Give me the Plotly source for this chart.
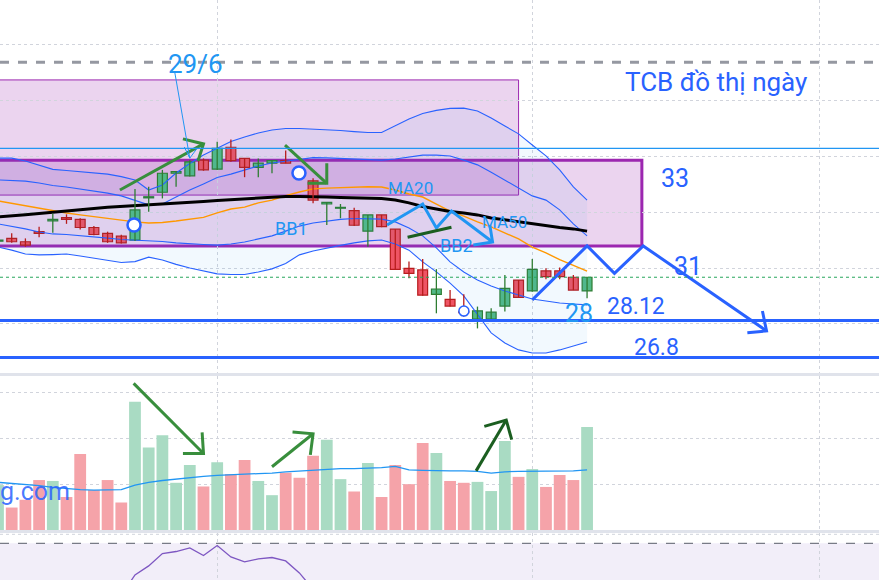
import plotly.graph_objects as go

# bar index: 0 = first full candle on the left, -1 is the one cut by the edge
bars = list(range(-1, 43))

opens = [30.96, 31.06, 30.94, 31.30, 31.69, 31.80, 31.74, 31.45, 31.24, 31.14, 31.00,
         32.51, 32.71, 33.39, 33.30, 33.86, 33.54, 34.32, 33.92, 33.60, 33.75, 33.84,
         33.43, 33.12, 32.29, 32.14, 32.05, 31.32, 31.90, 31.39, 29.99, 29.93, 29.06,
         28.88, 28.44, 28.17, 28.17, 28.64, 29.57, 29.18, 29.90, 29.90, 29.67, 29.18]
highs = [31.05, 31.24, 31.06, 31.48, 31.95, 31.92, 31.78, 31.50, 31.30, 31.19, 32.83,
         32.91, 33.51, 33.45, 33.86, 33.92, 34.52, 34.60, 33.93, 33.92, 33.84, 34.20,
         33.58, 33.21, 32.35, 32.29, 32.16, 31.90, 31.90, 31.39, 30.23, 30.32, 29.96,
         29.21, 29.06, 28.62, 28.56, 29.75, 29.57, 30.32, 29.99, 30.02, 29.75, 29.67]
lows = [30.92, 30.90, 30.76, 31.10, 31.26, 31.58, 31.38, 31.17, 30.90, 30.88, 30.97,
        32.01, 32.49, 32.91, 33.27, 33.48, 33.51, 33.80, 33.25, 33.25, 33.39, 33.75,
        33.22, 32.32, 31.54, 31.78, 31.50, 30.76, 31.46, 29.93, 29.63, 29.01, 28.38,
        28.62, 28.26, 27.84, 28.17, 28.44, 28.95, 29.15, 29.60, 29.60, 29.21, 28.92]
closes = [31.00, 30.94, 30.82, 31.24, 31.74, 31.74, 31.45, 31.20, 30.94, 30.90, 32.08,
          32.55, 33.39, 33.45, 33.80, 33.51, 34.28, 33.84, 33.60, 33.75, 33.84, 33.75,
          33.36, 32.43, 32.35, 32.17, 31.53, 31.90, 31.48, 29.95, 29.81, 29.03, 29.25,
          28.64, 28.40, 28.47, 28.42, 29.27, 28.95, 29.95, 29.69, 29.69, 29.21, 29.67]

# volume in millions of shares and its moving average
volume = [9.8, 4.9, 6.6, 10.9, 10.7, 7.2, 16.6, 8.7, 10.9, 6.0, 28.0, 18.0, 20.7, 10.3,
          14.2, 9.5, 14.8, 12.2, 15.3, 10.7, 7.6, 12.5, 11.4, 16.2, 19.7, 11.1, 8.4, 14.6,
          7.2, 14.2, 10.0, 19.0, 16.8, 10.7, 10.3, 10.5, 8.5, 19.4, 11.6, 13.3, 9.4, 12.0,
          10.9, 22.5]
vol_ma = [10.4, 10.2, 10.0, 9.7, 9.3, 9.0, 8.8, 8.7, 8.7, 8.8, 9.8, 10.4, 10.8, 11.1,
          11.5, 11.7, 11.9, 12.1, 12.2, 12.3, 12.4, 12.7, 12.9, 13.0, 13.3, 13.4, 13.4,
          13.5, 13.6, 13.9, 13.1, 13.0, 12.9, 12.9, 12.9, 12.8, 12.4, 12.7, 12.8, 12.8,
          12.8, 12.8, 12.9, 13.1]

ma20 = [32.40, 32.31, 32.24, 32.15, 32.04, 31.97, 31.90, 31.84, 31.77, 31.70, 31.65,
        31.61, 31.63, 31.68, 31.74, 31.81, 31.97, 32.11, 32.18, 32.33, 32.43, 32.59,
        32.72, 32.83, 32.86, 32.88, 32.90, 32.91, 32.90, 32.79, 32.65, 32.54, 32.29,
        32.04, 31.86, 31.65, 31.47, 31.25, 31.04, 30.75, 30.54, 30.30, 30.09, 29.89]
ma50 = [31.83, 31.86, 31.91, 31.95, 32.00, 32.04, 32.08, 32.13, 32.17, 32.20, 32.22,
        32.24, 32.27, 32.31, 32.34, 32.38, 32.42, 32.45, 32.47, 32.51, 32.54, 32.56,
        32.56, 32.56, 32.54, 32.52, 32.51, 32.51, 32.49, 32.43, 32.33, 32.20, 32.11,
        32.02, 31.97, 31.90, 31.79, 31.72, 31.65, 31.58, 31.50, 31.45, 31.40, 31.32]

# bollinger bands, 2 and 1 deviations
bb_up2 = [33.93, 33.93, 33.83, 33.67, 33.53, 33.49, 33.45, 33.42, 33.36, 33.27, 33.15,
          32.79, 32.97, 33.40, 33.74, 34.04, 34.29, 34.53, 34.69, 34.83, 34.94, 34.99,
          34.99, 34.97, 34.94, 34.92, 34.88, 34.85, 34.85, 35.08, 35.33, 35.53, 35.64,
          35.71, 35.72, 35.62, 35.37, 35.08, 34.80, 34.40, 34.01, 33.51, 32.90, 32.43]
bb_up1 = [33.15, 33.13, 33.11, 33.04, 32.95, 32.90, 32.83, 32.76, 32.68, 32.58, 32.43,
          32.26, 32.29, 32.54, 32.79, 33.01, 33.24, 33.36, 33.51, 33.65, 33.76, 33.83,
          33.90, 33.95, 33.94, 33.92, 33.90, 33.88, 33.86, 33.90, 33.97, 34.04, 34.04,
          34.01, 33.86, 33.69, 33.43, 33.15, 32.86, 32.58, 32.43, 32.08, 31.58, 31.15]
bb_lo1 = [31.58, 31.50, 31.40, 31.29, 31.22, 31.20, 31.16, 31.13, 31.07, 31.02, 31.00,
          30.98, 30.95, 30.90, 30.86, 30.84, 30.82, 30.86, 30.93, 31.04, 31.15, 31.32,
          31.50, 31.61, 31.68, 31.74, 31.77, 31.77, 31.75, 31.65, 31.43, 31.15, 30.72,
          30.22, 29.86, 29.57, 29.36, 29.18, 29.03, 28.89, 28.82, 28.75, 28.71, 28.68]
bb_lo2 = [30.75, 30.64, 30.50, 30.47, 30.48, 30.50, 30.43, 30.36, 30.29, 30.20, 30.23,
          30.39, 30.29, 30.13, 30.00, 29.89, 29.79, 29.77, 29.77, 29.86, 29.97, 30.16,
          30.47, 30.61, 30.72, 30.81, 30.90, 30.97, 31.00, 30.86, 30.64, 30.22, 29.86,
          29.46, 29.00, 28.32, 27.68, 27.32, 27.07, 26.96, 26.96, 27.07, 27.21, 27.35]

rsi = [48, 46, 45, 46, 48, 48, 46, 44, 42, 44, 54.2, 58.7, 64.9, 65.9, 67.7, 63.9, 68.9,
       63.2, 60.7, 62.2, 62.9, 61.2, 55.2, 47, 46, 45, 41, 44, 40, 31, 29, 25, 29, 27,
       26, 28, 28, 37, 34, 41, 39, 39, 36, 40]

# drawings (bar index, price)
level_lines = [28.12, 26.8]
dashed_level = 37.36
thin_level = 34.28
box_top = dict(x1=37, y0=32.61, y1=36.73)
box_range = dict(x1=46, y0=30.79, y1=33.86)
zigzag_light = dict(x=[27.4, 30.0, 31.0, 32.1, 35.1, None, 34.9, 35.1, 33.7],
                    y=[31.54, 32.29, 31.43, 32.04, 30.93, None, 31.54, 30.93, 30.82])
zigzag_dark = dict(x=[38.0, 42.0, 44.0, 46.1, 55.1, None, 54.8, 55.1, 53.7],
                   y=[28.86, 30.79, 29.81, 30.79, 27.75, None, 28.46, 27.75, 27.68])
arrow_up = dict(x=[7.9, 14.0, None, 12.5, 14.0, 13.6],
                y=[32.79, 34.44, None, 34.62, 34.44, 33.83])
arrow_down = dict(x=[19.95, 23.0, None, 23.0, 23.0, 21.6],
                  y=[34.40, 33.03, None, 33.75, 33.03, 33.03])
green_seg = dict(x=[28.9, 32.1], y=[31.10, 31.46])
date_arrow = dict(x=[11.9, 13.0, None, 12.6, 13.0, 13.5],
                  y=[37.01, 33.93, None, 34.33, 33.93, 34.26])
vol_arrow1 = dict(x=[8.9, 14.0, None, 13.9, 14.0, 12.5], y=[32.0, 16.7, None, 21.3, 16.7, 16.7])
vol_arrow2 = dict(x=[19.0, 22.0, None, 20.5, 22.0, 21.8], y=[13.8, 21.0, None, 21.4, 21.0, 16.4])
vol_arrow3 = dict(x=[33.9, 36.1, None, 34.5, 36.1, 36.5], y=[12.9, 24.0, None, 22.6, 24.0, 19.7])
markers = dict(x=[8.93, 20.97], y=[31.54, 33.40])
marker_small = dict(x=[33.01], y=[28.46])
month_lines = [15, 38, 59]

BLUE = "#2962ff"
LIGHT = "#2196f3"
GREEN = "#388e3c"
DKGREEN = "#1b5e20"
UP_FILL, UP_LINE = "#53b987", "#2e7d32"
DN_FILL, DN_LINE = "#ef5464", "#b71c1c"
FONT = "Roboto"

fig = go.Figure()

# bollinger background
fig.add_trace(go.Scatter(x=bars, y=bb_up2, mode="lines", line=dict(color=BLUE, width=1.1),
                         hoverinfo="skip"))
fig.add_trace(go.Scatter(x=bars, y=bb_lo2, mode="lines", line=dict(color=BLUE, width=1.1),
                         fill="tonexty", fillcolor="rgba(33,150,243,0.06)", hoverinfo="skip"))
fig.add_trace(go.Scatter(x=bars, y=bb_up1, mode="lines", line=dict(color=BLUE, width=1.1)))
fig.add_trace(go.Scatter(x=bars, y=bb_lo1, mode="lines", line=dict(color=BLUE, width=1.1)))
fig.add_trace(go.Scatter(x=bars, y=ma20, mode="lines", line=dict(color="#ff9800", width=1.4)))
fig.add_trace(go.Scatter(x=bars, y=ma50, mode="lines", line=dict(color="black", width=3)))

# candles: wicks as line segments, bodies as floating bars
up = [c >= o for o, c in zip(opens, closes)]
for flag, col in [(True, UP_LINE), (False, DN_LINE)]:
    wx, wy = [], []
    for b, h, l, u in zip(bars, highs, lows, up):
        if u == flag:
            wx += [b, b, None]
            wy += [l, h, None]
    fig.add_trace(go.Scatter(x=wx, y=wy, mode="lines", line=dict(color=col, width=1.3)))

fig.add_trace(go.Bar(
    x=bars, base=[min(o, c) for o, c in zip(opens, closes)],
    y=[max(abs(c - o), 0.02) for o, c in zip(opens, closes)], width=0.72,
    marker=dict(color=[UP_FILL if u else DN_FILL for u in up],
                line=dict(color=[UP_LINE if u else DN_LINE for u in up], width=1.2)),
))

# hand drawings on the price pane
for d, c, w in [(zigzag_light, LIGHT, 3), (zigzag_dark, BLUE, 3), (arrow_up, GREEN, 3),
                (arrow_down, GREEN, 3), (green_seg, DKGREEN, 3), (date_arrow, LIGHT, 1)]:
    fig.add_trace(go.Scatter(x=d["x"], y=d["y"], mode="lines", line=dict(color=c, width=w)))

fig.add_trace(go.Scatter(x=markers["x"], y=markers["y"], mode="markers",
                         marker=dict(size=13, color="white", line=dict(color=BLUE, width=2.5))))
fig.add_trace(go.Scatter(x=marker_small["x"], y=marker_small["y"], mode="markers",
                         marker=dict(size=10, color="white", line=dict(color=BLUE, width=1.5))))

# volume pane
vol_colors = ["#a9dbc3" if u else "#f5a3a9" for u in up]
fig.add_trace(go.Bar(x=bars, y=volume, width=0.86, marker=dict(color=vol_colors, line_width=0),
                     xaxis="x2", yaxis="y2"))
fig.add_trace(go.Scatter(x=bars, y=vol_ma, mode="lines", line=dict(color=LIGHT, width=1.3),
                         xaxis="x2", yaxis="y2"))
for d, c in [(vol_arrow1, GREEN), (vol_arrow2, GREEN), (vol_arrow3, DKGREEN)]:
    fig.add_trace(go.Scatter(x=d["x"], y=d["y"], mode="lines", line=dict(color=c, width=3),
                             xaxis="x2", yaxis="y2"))

# rsi pane
fig.add_trace(go.Scatter(x=bars, y=rsi, mode="lines", line=dict(color="#7e57c2", width=1.3),
                         xaxis="x3", yaxis="y3"))

shapes = []
# boxes
for b, w in [(box_top, 1), (box_range, 3)]:
    shapes.append(dict(type="rect", xref="x", yref="y", x0=-5, x1=b["x1"], y0=b["y0"],
                       y1=b["y1"], fillcolor="rgba(156,39,176,0.2)",
                       line=dict(color="#9c27b0", width=w), layer="below"))
# horizontal levels
shapes.append(dict(type="line", xref="paper", yref="y", x0=0, x1=1, y0=dashed_level,
                   y1=dashed_level, line=dict(color="#9598a1", width=3, dash="dash")))
shapes.append(dict(type="line", xref="paper", yref="y", x0=0, x1=1, y0=thin_level,
                   y1=thin_level, line=dict(color=LIGHT, width=1.3)))
for lv in level_lines:
    shapes.append(dict(type="line", xref="paper", yref="y", x0=0, x1=1, y0=lv, y1=lv,
                       line=dict(color=BLUE, width=3)))
shapes.append(dict(type="line", xref="paper", yref="y", x0=0, x1=1, y0=closes[-1],
                   y1=closes[-1], line=dict(color="#26a65b", width=1, dash="dot")))
# pane separators
for py in [0.3543, 0.0836]:
    shapes.append(dict(type="line", xref="paper", yref="paper", x0=0, x1=1, y0=py, y1=py,
                       line=dict(color="#e0e3eb", width=3)))
# rsi band
shapes.append(dict(type="rect", xref="paper", yref="y3", x0=0, x1=1, y0=30, y1=70,
                   fillcolor="rgba(126,87,194,0.1)", line_width=0, layer="below"))
shapes.append(dict(type="line", xref="paper", yref="y3", x0=0, x1=1, y0=70, y1=70,
                   line=dict(color="#787b86", width=1.2, dash="dash")))
shapes.append(dict(type="line", xref="paper", yref="y3", x0=0, x1=1, y0=74.5, y1=74.5,
                   line=dict(color="#d1d4dc", width=1, dash="dot")))


def label(text, x, y, size, color, yref="y", **kw):
    return dict(text=text, x=x, y=y, xref="x", yref=yref, showarrow=False,
                font=dict(family=FONT, size=size, color=color), **kw)


annotations = [
    label("TCB đồ thị ngày", 51.4, 36.66, 26, BLUE),
    label("29/6", 13.45, 37.30, 26, LIGHT),
    label("33", 48.4, 33.22, 25, BLUE),
    label("31", 49.4, 30.07, 25, BLUE),
    label("28.12", 45.6, 28.64, 23, BLUE),
    label("26.8", 47.1, 27.17, 23, BLUE),
    label("28", 41.4, 28.39, 25, LIGHT),
    label("MA20", 29.1, 32.86, 17, LIGHT),
    label("MA50", 36.0, 31.65, 17, LIGHT),
    label("BB1", 20.4, 31.43, 18, LIGHT),
    label("BB2", 32.5, 30.79, 18, LIGHT),
    label("g.com", 4.4, 8.3, 25, "rgba(41,98,255,0.85)", yref="y2", xanchor="right"),
]

xrange = [-0.854, 63.31]
xcommon = dict(range=xrange, showticklabels=False, tickvals=month_lines, showgrid=True,
               gridcolor="#d1d4dc", griddash="dot", gridwidth=1, zeroline=False,
               showline=False, fixedrange=True)

fig.update_layout(
    width=879, height=580, margin=dict(l=0, r=0, t=0, b=0),
    paper_bgcolor="white", plot_bgcolor="white", showlegend=False,
    barmode="overlay",
    xaxis=dict(xcommon, anchor="y"),
    xaxis2=dict(xcommon, anchor="y2", matches="x"),
    xaxis3=dict(xcommon, anchor="y3", matches="x"),
    yaxis=dict(domain=[0.3569, 1], range=[26.244, 39.589], tickvals=[28, 30, 32, 34, 36, 38],
               showticklabels=False, gridcolor="#d1d4dc", griddash="dot", zeroline=False),
    yaxis2=dict(domain=[0.0862, 0.3517], range=[0, 33.6], tickvals=[10, 20, 30],
                showticklabels=False, gridcolor="#d1d4dc", griddash="dot", zeroline=False),
    yaxis3=dict(domain=[0, 0.081], range=[51.65, 75.15], showticklabels=False,
                showgrid=False, zeroline=False),
    shapes=shapes, annotations=annotations,
)

fig.write_html("out.html", config={"displayModeBar": False},
               post_script="document.body.style.margin = '0';")
